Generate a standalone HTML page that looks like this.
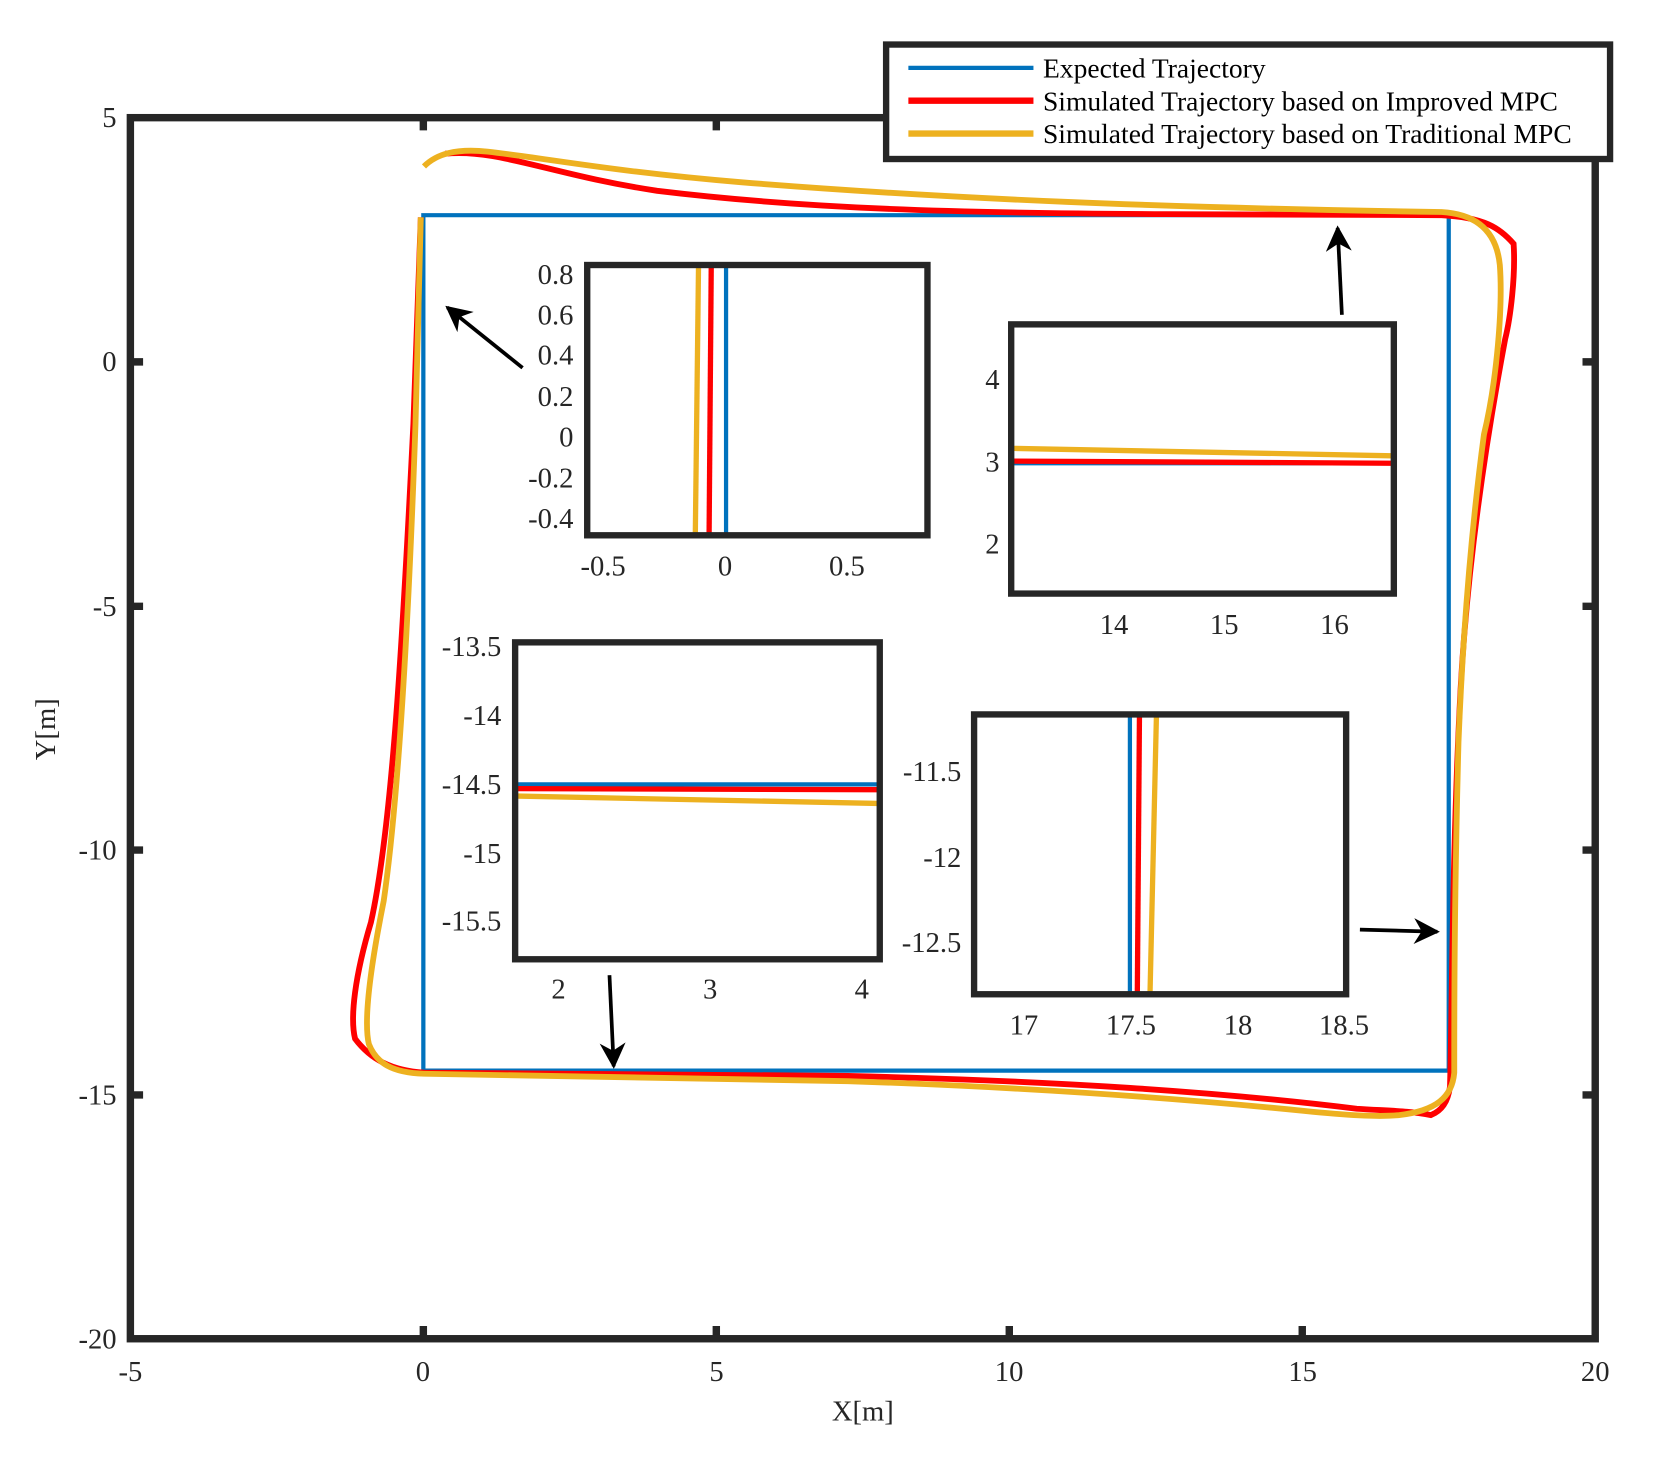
<!DOCTYPE html>
<html><head><meta charset="utf-8"><style>html,body{margin:0;padding:0;background:#fff}svg{display:block}text{font-family:"Liberation Serif",serif;fill:#262626}</style></head><body>
<svg width="1662" height="1458" viewBox="0 0 1568 1375.5" xmlns="http://www.w3.org/2000/svg">
<defs><marker id="ah" viewBox="0 0 10 10" refX="9" refY="5" markerWidth="7" markerHeight="7" orient="auto"><path d="M0,0 L10,5 L0,10 L3,5 z" fill="#000"/></marker></defs>
<rect x="123" y="111" width="1382" height="1152" fill="none" stroke="#262626" stroke-width="7"/>
<g stroke="#262626" stroke-width="7">
<path d="M399.4,1263v-12M675.8,1263v-12M952.2,1263v-12M1228.6,1263v-12M399.4,111v12M675.8,111v12M952.2,111v12M1228.6,111v12"/>
<path d="M123,341.4h12M123,572h12M123,802h12M123,1033h12M1505,341.4h-12M1505,572h-12M1505,802h-12M1505,1033h-12"/>
</g>
<g font-size="27" text-anchor="end">
<text x="110" y="120">5</text><text x="110" y="350">0</text><text x="110" y="581">-5</text><text x="110" y="811">-10</text><text x="110" y="1042">-15</text><text x="110" y="1272">-20</text>
</g>
<g font-size="27" text-anchor="middle">
<text x="123" y="1303">-5</text><text x="399" y="1303">0</text><text x="676" y="1303">5</text><text x="952" y="1303">10</text><text x="1229" y="1303">15</text><text x="1505" y="1303">20</text>
<text x="814" y="1340">X[m]</text>
<text transform="translate(52,688) rotate(-90)">Y[m]</text>
</g>
<path d="M399.4,1010 V203 H1366.8 V1010 Z" fill="none" stroke="#0072BD" stroke-width="4"/>
<path d="M420,145 C470,140 520,165 620,180 C760,197 900,201 1100,202 L1360,203 C1400,205 1415,215 1428,230 C1430,260 1425,300 1420,320 C1405,400 1385,520 1378,650 C1370,800 1370,950 1368,1025 C1366,1040 1360,1048 1350,1052 C1330,1048 1310,1048 1280,1046 C1150,1030 1000,1020 800,1015 L400,1012 C370,1010 350,1000 335,980 C330,960 335,920 350,870 C370,780 380,600 390,400 L397,205" fill="none" stroke="#FF0000" stroke-width="5.5"/>
<path d="M400,157 C412,145 430,140 460,143 C520,150 580,162 700,172 C900,188 1100,196 1360,200 C1395,202 1412,220 1415,250 C1418,290 1412,360 1400,410 C1388,500 1380,600 1376,700 C1372,850 1372,950 1372,1012 C1370,1035 1355,1048 1320,1052 C1300,1054 1270,1052 1230,1048 C1100,1035 950,1025 800,1020 L400,1013 C370,1012 355,1003 348,985 C342,960 352,900 362,850 C375,760 385,600 392,400 L397,205" fill="none" stroke="#EDB120" stroke-width="5.5"/>
<g stroke="#000" stroke-width="3.5" fill="none" marker-end="url(#ah)">
<line x1="493" y1="347" x2="422" y2="290"/>
<line x1="1266" y1="297" x2="1262" y2="215"/>
<line x1="1283" y1="877" x2="1356" y2="879"/>
<line x1="575" y1="920" x2="579" y2="1006"/>
</g>
<rect x="554" y="250" width="321" height="255" fill="#fff"/>
<line x1="659" y1="252" x2="656" y2="503" stroke="#EDB120" stroke-width="5"/>
<line x1="671" y1="252" x2="669" y2="503" stroke="#FF0000" stroke-width="5"/>
<line x1="685" y1="252" x2="685" y2="503" stroke="#0072BD" stroke-width="4"/>
<rect x="554" y="250" width="321" height="255" fill="none" stroke="#262626" stroke-width="6"/>
<g font-size="27" text-anchor="end"><text x="541" y="268">0.8</text><text x="541" y="306">0.6</text><text x="541" y="344">0.4</text><text x="541" y="383">0.2</text><text x="541" y="421">0</text><text x="541" y="460">-0.2</text><text x="541" y="498">-0.4</text></g>
<g font-size="27" text-anchor="middle"><text x="569" y="543">-0.5</text><text x="684" y="543">0</text><text x="799" y="543">0.5</text></g>
<rect x="954" y="306" width="361" height="254" fill="#fff"/>
<line x1="956" y1="437" x2="1313" y2="437" stroke="#0072BD" stroke-width="4"/>
<line x1="956" y1="435" x2="1313" y2="437" stroke="#FF0000" stroke-width="5"/>
<line x1="956" y1="423" x2="1313" y2="430" stroke="#EDB120" stroke-width="5"/>
<rect x="954" y="306" width="361" height="254" fill="none" stroke="#262626" stroke-width="6"/>
<g font-size="27" text-anchor="end"><text x="943" y="367">4</text><text x="943" y="445">3</text><text x="943" y="522">2</text></g>
<g font-size="27" text-anchor="middle"><text x="1051" y="598">14</text><text x="1155" y="598">15</text><text x="1259" y="598">16</text></g>
<rect x="486" y="606" width="344" height="299" fill="#fff"/>
<line x1="488" y1="740" x2="828" y2="740" stroke="#0072BD" stroke-width="4"/>
<line x1="488" y1="744" x2="828" y2="745" stroke="#FF0000" stroke-width="5"/>
<line x1="488" y1="751" x2="828" y2="758" stroke="#EDB120" stroke-width="5"/>
<rect x="486" y="606" width="344" height="299" fill="none" stroke="#262626" stroke-width="6"/>
<g font-size="27" text-anchor="end"><text x="473" y="619">-13.5</text><text x="473" y="684">-14</text><text x="473" y="749">-14.5</text><text x="473" y="814">-15</text><text x="473" y="878">-15.5</text></g>
<g font-size="27" text-anchor="middle"><text x="527" y="942">2</text><text x="670" y="942">3</text><text x="813" y="942">4</text></g>
<rect x="919" y="674" width="351" height="264" fill="#fff"/>
<line x1="1066" y1="676" x2="1066" y2="936" stroke="#0072BD" stroke-width="4"/>
<line x1="1075" y1="676" x2="1073" y2="936" stroke="#FF0000" stroke-width="5"/>
<line x1="1091" y1="676" x2="1085" y2="936" stroke="#EDB120" stroke-width="5"/>
<rect x="919" y="674" width="351" height="264" fill="none" stroke="#262626" stroke-width="6"/>
<g font-size="27" text-anchor="end"><text x="907" y="737">-11.5</text><text x="907" y="818">-12</text><text x="907" y="898">-12.5</text></g>
<g font-size="27" text-anchor="middle"><text x="966" y="976">17</text><text x="1067" y="976">17.5</text><text x="1168" y="976">18</text><text x="1268" y="976">18.5</text></g>
<rect x="836" y="42" width="683" height="108" fill="#fff" stroke="#262626" stroke-width="6"/>
<line x1="857" y1="64" x2="975" y2="64" stroke="#0072BD" stroke-width="4"/>
<line x1="857" y1="95" x2="975" y2="95" stroke="#FF0000" stroke-width="6"/>
<line x1="857" y1="126" x2="975" y2="126" stroke="#EDB120" stroke-width="6"/>
<g font-size="26"><text x="984" y="73" style="fill:#000">Expected Trajectory</text><text x="984" y="104" style="fill:#000">Simulated Trajectory based on Improved MPC</text><text x="984" y="135" style="fill:#000">Simulated Trajectory based on Traditional MPC</text></g>
</svg>
</body></html>
